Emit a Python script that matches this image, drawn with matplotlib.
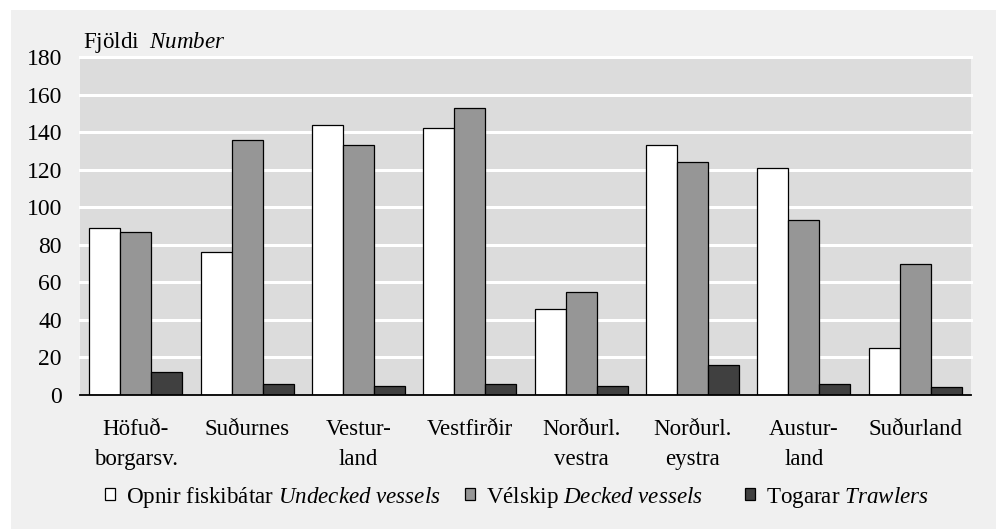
import numpy as np
import matplotlib
matplotlib.use("Agg")
import matplotlib.pyplot as plt
from matplotlib.patches import Rectangle, Patch

# Fonts: Times-like serif, italic English parts via mathtext
plt.rcParams['font.family'] = ['Liberation Serif', 'DejaVu Serif']
plt.rcParams['mathtext.fontset'] = 'custom'
plt.rcParams['mathtext.rm'] = 'Liberation Serif'
plt.rcParams['mathtext.it'] = 'Liberation Serif:italic'

# Data
regions = ['Höfuð-\nborgarsv.', 'Suðurnes', 'Vestur-\nland', 'Vestfirðir',
           'Norðurl.\nvestra', 'Norðurl.\neystra', 'Austur-\nland', 'Suðurland']
undecked = [89, 76, 144, 142, 46, 133, 121, 25]
decked = [87, 136, 133, 153, 55, 124, 93, 70]
trawlers = [12, 6, 5, 6, 5, 16, 6, 4]
yticks = [0, 20, 40, 60, 80, 100, 120, 140, 160, 180]

labels = [r'Opnir fiskibátar $\mathit{Undecked\ vessels}$',
          r'Vélskip $\mathit{Decked\ vessels}$',
          r'Togarar $\mathit{Trawlers}$']
colors = ['#ffffff', '#969696', '#404040']

fig = plt.figure(figsize=(10, 5.3), dpi=100)
fig.patch.set_facecolor('white')

# light grey panel behind everything
fig.patches.append(Rectangle((0.011, 0.002), 0.985, 0.979, transform=fig.transFigure,
                             facecolor='#f0f0f0', edgecolor='none', zorder=-1))

ax = fig.add_axes([0.080, 0.2547, 0.891, 0.6377])
ax.set_zorder(2)
ax.set_facecolor('#dcdcdc')

x = np.arange(len(regions))
w = 0.278
series = [undecked, decked, trawlers]
for i, vals in enumerate(series):
    ax.bar(x + (i - 1) * w, vals, width=w, color=colors[i], edgecolor='black',
           linewidth=0.9, zorder=3)

for t in yticks[1:]:
    ax.axhline(t, color='white', linewidth=2.2, zorder=1, clip_on=False)

ax.set_xlim(-0.5, len(regions) - 0.5)
ax.set_ylim(0, 180)
ax.set_yticks(yticks)
ax.set_xticks(x)
ax.set_xticklabels(regions, fontsize=16.5, linespacing=1.6)
ax.tick_params(axis='y', length=0, pad=13, labelsize=17)
ax.tick_params(axis='x', length=0, pad=17)

for s in ['left', 'right', 'top']:
    ax.spines[s].set_visible(False)
ax.spines['bottom'].set_color('black')
ax.spines['bottom'].set_linewidth(1.3)
ax.spines['bottom'].set_zorder(4)

fig.text(0.083, 1 - 48 / 530, r'Fjöldi  $\mathit{Number}$', fontsize=16.6,
         ha='left', va='baseline', zorder=3)

# legend: one entry each so the uneven gaps of the original can be kept
leg_x = [0.105, 0.465, 0.745]
for c, lab, lx in zip(colors, labels, leg_x):
    h = Patch(facecolor=c, edgecolor='black', linewidth=0.9)
    leg = fig.legend([h], [lab], loc='center left', bbox_to_anchor=(lx, 1 - 497 / 530),
                     frameon=False, fontsize=16.6, handlelength=0.45,
                     handleheight=0.45, handletextpad=0.45, borderpad=0,
                     borderaxespad=0)
    leg.set_zorder(3)

fig.savefig('out.png', dpi=100, facecolor=fig.get_facecolor())
